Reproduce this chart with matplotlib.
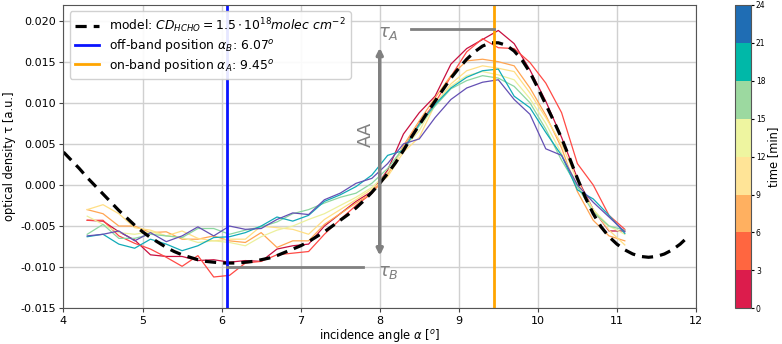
import numpy as np
import matplotlib
matplotlib.use("Agg")
import matplotlib.pyplot as plt
from matplotlib.colors import ListedColormap, BoundaryNorm
import matplotlib.cm as cm

# ---------------- data ----------------
model_x = np.round(np.arange(4.0, 11.95, 0.1), 2)
model_tau = [0.0040, 0.0030, 0.0020, 0.0009, -0.0001, -0.0011, -0.0021, -0.0031, -0.0040, -0.0049,
             -0.0057, -0.0064, -0.0070, -0.0076, -0.0081, -0.0085, -0.0088, -0.0091, -0.0093, -0.0094,
             -0.0095, -0.0095, -0.0095, -0.0094, -0.0093, -0.0091, -0.0089, -0.0086, -0.0082, -0.0078,
             -0.0074, -0.0069, -0.0063, -0.0057, -0.0050, -0.0043, -0.0036, -0.0028, -0.0019, -0.0009,
             0.0002, 0.0014, 0.0027, 0.0042, 0.0058, 0.0073, 0.0088, 0.0102, 0.0116, 0.0130,
             0.0142, 0.0153, 0.0162, 0.0169, 0.0173, 0.0173, 0.0170, 0.0163, 0.0152, 0.0137,
             0.0118, 0.0098, 0.0078, 0.0057, 0.0033, 0.0008, -0.0015, -0.0035, -0.0051, -0.0063,
             -0.0072, -0.0079, -0.0084, -0.0087, -0.0088, -0.0087, -0.0084, -0.0079, -0.0072, -0.0063]

meas_x = np.round(np.arange(4.3, 11.15, 0.2), 2)
times = [0, 3, 6, 9, 12, 15, 18, 21]
s0 = [-0.0043, -0.0044, -0.0057, -0.0067, -0.0085, -0.0087, -0.0087, -0.0092, -0.0091, -0.0094, -0.0092, -0.0093,
      -0.0078, -0.0074, -0.0072, -0.0050, -0.0035, -0.0020, -0.0008, 0.0018, 0.0062, 0.0088, 0.0108, 0.0147,
      0.0166, 0.0177, 0.0188, 0.0172, 0.0140, 0.0102, 0.0058, 0.0008, -0.0030, -0.0056, -0.0056]
s1 = [-0.0043, -0.0043, -0.0062, -0.0071, -0.0078, -0.0088, -0.0099, -0.0086, -0.0112, -0.0110, -0.0095, -0.0093,
      -0.0085, -0.0083, -0.0081, -0.0060, -0.0042, -0.0025, -0.0010, 0.0014, 0.0045, 0.0075, 0.0100, 0.0132,
      0.0162, 0.0178, 0.0167, 0.0166, 0.0149, 0.0124, 0.0088, 0.0026, 0.0000, -0.0037, -0.0054]
s2 = [-0.0030, -0.0035, -0.0050, -0.0050, -0.0058, -0.0057, -0.0066, -0.0066, -0.0062, -0.0068, -0.0070, -0.0058,
      -0.0076, -0.0068, -0.0068, -0.0048, -0.0035, -0.0022, -0.0010, 0.0012, 0.0048, 0.0078, 0.0106, 0.0133,
      0.0151, 0.0153, 0.0150, 0.0145, 0.0118, 0.0085, 0.0045, -0.0008, -0.0043, -0.0062, -0.0068]
s3 = [-0.0030, -0.0024, -0.0035, -0.0052, -0.0055, -0.0062, -0.0056, -0.0065, -0.0068, -0.0066, -0.0066, -0.0050,
      -0.0052, -0.0054, -0.0060, -0.0042, -0.0030, -0.0018, -0.0005, 0.0010, 0.0040, 0.0058, 0.0098, 0.0123,
      0.0139, 0.0145, 0.0142, 0.0138, 0.0112, 0.0082, 0.0050, 0.0005, -0.0030, -0.0055, -0.0073]
s4 = [-0.0038, -0.0048, -0.0058, -0.0060, -0.0057, -0.0062, -0.0064, -0.0070, -0.0068, -0.0070, -0.0074, -0.0063,
      -0.0055, -0.0050, -0.0042, -0.0035, -0.0025, -0.0015, -0.0003, 0.0015, 0.0044, 0.0066, 0.0100, 0.0120,
      0.0133, 0.0138, 0.0134, 0.0128, 0.0105, 0.0075, 0.0038, 0.0000, -0.0030, -0.0050, -0.0060]
s5 = [-0.0060, -0.0048, -0.0065, -0.0065, -0.0060, -0.0062, -0.0064, -0.0053, -0.0053, -0.0060, -0.0055, -0.0051,
      -0.0045, -0.0035, -0.0030, -0.0022, -0.0015, -0.0010, 0.0002, 0.0020, 0.0045, 0.0072, 0.0096, 0.0117,
      0.0127, 0.0133, 0.0130, 0.0120, 0.0100, 0.0068, 0.0030, -0.0002, -0.0033, -0.0050, -0.0055]
s6 = [-0.0063, -0.0060, -0.0072, -0.0077, -0.0066, -0.0072, -0.0080, -0.0074, -0.0064, -0.0063, -0.0058, -0.0050,
      -0.0039, -0.0044, -0.0037, -0.0020, -0.0012, -0.0002, 0.0012, 0.0036, 0.0042, 0.0074, 0.0098, 0.0118,
      0.0131, 0.0139, 0.0141, 0.0108, 0.0094, 0.0064, 0.0036, -0.0006, -0.0017, -0.0037, -0.0059]
s7 = [-0.0062, -0.0060, -0.0056, -0.0068, -0.0058, -0.0069, -0.0062, -0.0051, -0.0062, -0.0050, -0.0054, -0.0053,
      -0.0042, -0.0034, -0.0036, -0.0018, -0.0010, 0.0002, 0.0008, 0.0026, 0.0050, 0.0056, 0.0082, 0.0104,
      0.0118, 0.0125, 0.0128, 0.0104, 0.0086, 0.0044, 0.0036, 0.0000, -0.0021, -0.0039, -0.0057]
series = [s0, s1, s2, s3, s4, s5, s6, s7]
line_colors = ['#c8103f', '#ff4a45', '#ffa552', '#ffdf85', '#ecf09c', '#8cd6a0', '#12abb8', '#6450b4']
cbar_colors = ['#dc1c4c', '#ff6640', '#ffb060', '#ffe497', '#eef5a0', '#9cd9a0', '#00b8a8', '#1f6db4']
cbar_bounds = [0, 3, 6, 9, 12, 15, 18, 21, 24]

alpha_B = 6.07
alpha_A = 9.45
tau_A = 0.0190
tau_B = -0.0100

# ---------------- figure ----------------
fig = plt.figure(figsize=(7.82, 3.44), dpi=100)
ax = fig.add_axes([0.0812, 0.104, 0.8088, 0.8815])
cax = fig.add_axes([0.9405, 0.104, 0.020, 0.8815])

ax.grid(True, color='#d0d0d0', lw=1.0)
ax.set_axisbelow(True)

for s, c in zip(series, line_colors):
    ax.plot(meas_x, s, color=c, lw=0.9)

ax.plot(model_x, model_tau, color='black', lw=2.3, dashes=(3.5, 2.2),
        label=r'model: $CD_{HCHO} = 1.5 \cdot 10^{18} molec\ cm^{-2}$')
ax.axvline(alpha_B, color='#0a14ff', lw=2.0, label=r'off-band position $\alpha_B$: 6.07$^o$')
ax.axvline(alpha_A, color='#ffa500', lw=2.0, label=r'on-band position $\alpha_A$: 9.45$^o$')

# annotations
gray = '#808080'
ax.annotate('', xy=(8.0, 0.0167), xytext=(8.0, -0.0086),
            arrowprops=dict(arrowstyle='<|-|>', color=gray, lw=2.5, mutation_scale=9,
                            shrinkA=0, shrinkB=0))
ax.plot([8.4, alpha_A], [tau_A, tau_A], color=gray, lw=2)
ax.plot([alpha_B, 7.79], [tau_B, tau_B], color=gray, lw=2)
ax.text(7.98, 0.0185, r'$\tau_A$', color=gray, fontsize=13, ha='left', va='center')
ax.text(7.98, -0.0106, r'$\tau_B$', color=gray, fontsize=13, ha='left', va='center')
ax.text(7.83, 0.0062, 'AA', color=gray, fontsize=13, rotation=90, ha='center', va='center')

ax.set_xlim(4, 12)
ax.set_ylim(-0.015, 0.0219)
ax.set_xticks(range(4, 13))
ax.set_yticks([-0.015, -0.010, -0.005, 0.0, 0.005, 0.010, 0.015, 0.020])
ax.yaxis.set_major_formatter(matplotlib.ticker.FormatStrFormatter('%.3f'))
ax.tick_params(labelsize=8, color='#444444', length=3, pad=2.5)
for sp in ax.spines.values():
    sp.set_color('#555555')
ax.set_xlabel(r'incidence angle $\alpha$ [$^o$]', fontsize=8.3, labelpad=0.5)
ax.set_ylabel('optical density τ [a.u.]', fontsize=8.3, labelpad=3)

leg = ax.legend(loc='upper left', fontsize=8.9, framealpha=0.9, edgecolor='#cccccc',
                handlelength=2.0, borderpad=0.4, labelspacing=0.2, handletextpad=0.8)

cmap = ListedColormap(cbar_colors)
norm = BoundaryNorm(cbar_bounds, cmap.N)
cb = fig.colorbar(cm.ScalarMappable(norm=norm, cmap=cmap), cax=cax, ticks=cbar_bounds)
cb.ax.tick_params(labelsize=5.5, length=2, pad=1.5)
cb.set_label('time [min]', fontsize=8.3, labelpad=1)
cb.outline.set_edgecolor('#555555')

fig.savefig('out.png', dpi=100)
